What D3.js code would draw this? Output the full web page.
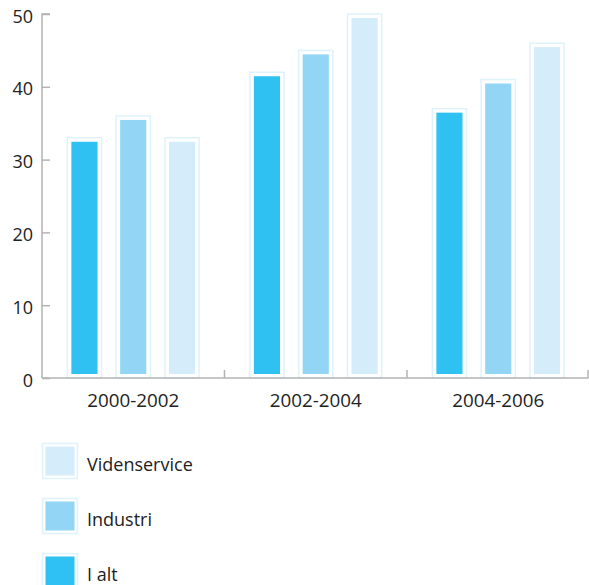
<!DOCTYPE html>
<html>
<head>
<meta charset="utf-8">
<script src="https://cdn.jsdelivr.net/npm/d3@7"></script>
<style>
  html, body { margin: 0; padding: 0; background: #fff; }
  svg text { font-family: "Open Sans", sans-serif; fill: #222; }
</style>
</head>
<body>
<svg id="chart" width="589" height="585"></svg>
<script>
// Periods on the x axis
const periods = ["2000-2002", "2002-2004", "2004-2006"];
// Series, in drawing order within each period
const seriesNames = ["I alt", "Industri", "Videnservice"];
const seriesColors = ["#2fc1f1", "#92d5f5", "#d5ecfa"];
// Values per series, one per period
const iAlt = [33, 42, 37];
const industri = [36, 45, 41];
const videnservice = [33, 50, 46];
// Y axis ticks
const yTicks = [0, 10, 20, 30, 40, 50];
// Legend order (top to bottom)
const legendOrder = ["Videnservice", "Industri", "I alt"];

const seriesValues = [iAlt, industri, videnservice];

const svg = d3.select("#chart");
const plotLeft = 42, plotRight = 589.5, plotTop = 14, plotBottom = 378;

const y = d3.scaleLinear().domain([0, 50]).range([plotBottom, plotTop]);
const x0 = d3.scaleBand().domain(periods).range([plotLeft, plotRight]).paddingInner(0).paddingOuter(0);
const x1 = d3.scaleBand().domain(seriesNames).range([0, x0.bandwidth()])
  .paddingInner(0.3).paddingOuter(0.52);

const borderColor = "#def2fc";
const inset = 4;

// Bars: light outline box with an inset coloured fill
const groups = svg.append("g").selectAll("g")
  .data(periods)
  .join("g")
  .attr("transform", d => `translate(${x0(d)},0)`);

groups.selectAll("g.bar")
  .data((p, i) => seriesNames.map((s, k) => ({ s, k, v: seriesValues[k][i] })))
  .join("g")
  .attr("class", "bar")
  .each(function (d) {
    const g = d3.select(this);
    const bx = x1(d.s), bw = x1.bandwidth();
    const yt = y(d.v);
    g.append("rect")
      .attr("x", bx).attr("y", yt)
      .attr("width", bw).attr("height", plotBottom - yt)
      .attr("fill", "#fff").attr("stroke", borderColor).attr("stroke-width", 1.5);
    g.append("rect")
      .attr("x", bx + inset).attr("y", yt + inset)
      .attr("width", bw - 2 * inset).attr("height", plotBottom - yt - 2 * inset)
      .attr("fill", seriesColors[d.k]);
  });

// Y axis with inward ticks
const yAxis = svg.append("g")
  .attr("transform", `translate(${plotLeft},0)`)
  .call(d3.axisRight(y).tickValues(yTicks).tickSize(8).tickFormat(d3.format("d")));
yAxis.select(".domain").attr("d", `M8,${plotTop}H0V${plotBottom}`).attr("stroke", "#b3b3b3").attr("stroke-width", 1.5);
yAxis.selectAll(".tick line").attr("stroke", "#b3b3b3").attr("stroke-width", 1.5);
yAxis.selectAll(".tick text")
  .attr("x", -9).attr("dy", "0.45em")
  .attr("text-anchor", "end")
  .style("font-size", "18px");

// X axis: baseline, upward ticks at period boundaries, labels centred
const xAxisG = svg.append("g");
xAxisG.append("line")
  .attr("x1", plotLeft).attr("x2", plotRight - 1)
  .attr("y1", plotBottom).attr("y2", plotBottom)
  .attr("stroke", "#b3b3b3").attr("stroke-width", 1.5);
const boundaries = periods.map(p => x0(p) + x0.bandwidth()).map(v => Math.min(v, plotRight - 1.5));
xAxisG.selectAll("line.tk")
  .data(boundaries)
  .join("line")
  .attr("class", "tk")
  .attr("x1", d => d).attr("x2", d => d)
  .attr("y1", plotBottom).attr("y2", plotBottom - 8)
  .attr("stroke", "#b3b3b3").attr("stroke-width", 1.5);
xAxisG.selectAll("text")
  .data(periods)
  .join("text")
  .attr("x", d => x0(d) + x0.bandwidth() / 2)
  .attr("y", 407)
  .attr("text-anchor", "middle")
  .style("font-size", "18.8px")
  .text(d => d);

// Legend
const legend = svg.append("g").attr("transform", "translate(42,443)");
const lg = legend.selectAll("g")
  .data(legendOrder)
  .join("g")
  .attr("transform", (d, i) => `translate(0,${i * 55})`);
lg.append("rect")
  .attr("x", 0.5).attr("y", 0.5).attr("width", 35).attr("height", 35)
  .attr("fill", "#fff").attr("stroke", borderColor).attr("stroke-width", 1.5);
lg.append("rect")
  .attr("x", 3.5).attr("y", 3.5).attr("width", 29).attr("height", 29)
  .attr("fill", d => seriesColors[seriesNames.indexOf(d)]);
lg.append("text")
  .attr("x", 45).attr("y", 28)
  .style("font-size", "18px")
  .text(d => d);
</script>
</body>
</html>
